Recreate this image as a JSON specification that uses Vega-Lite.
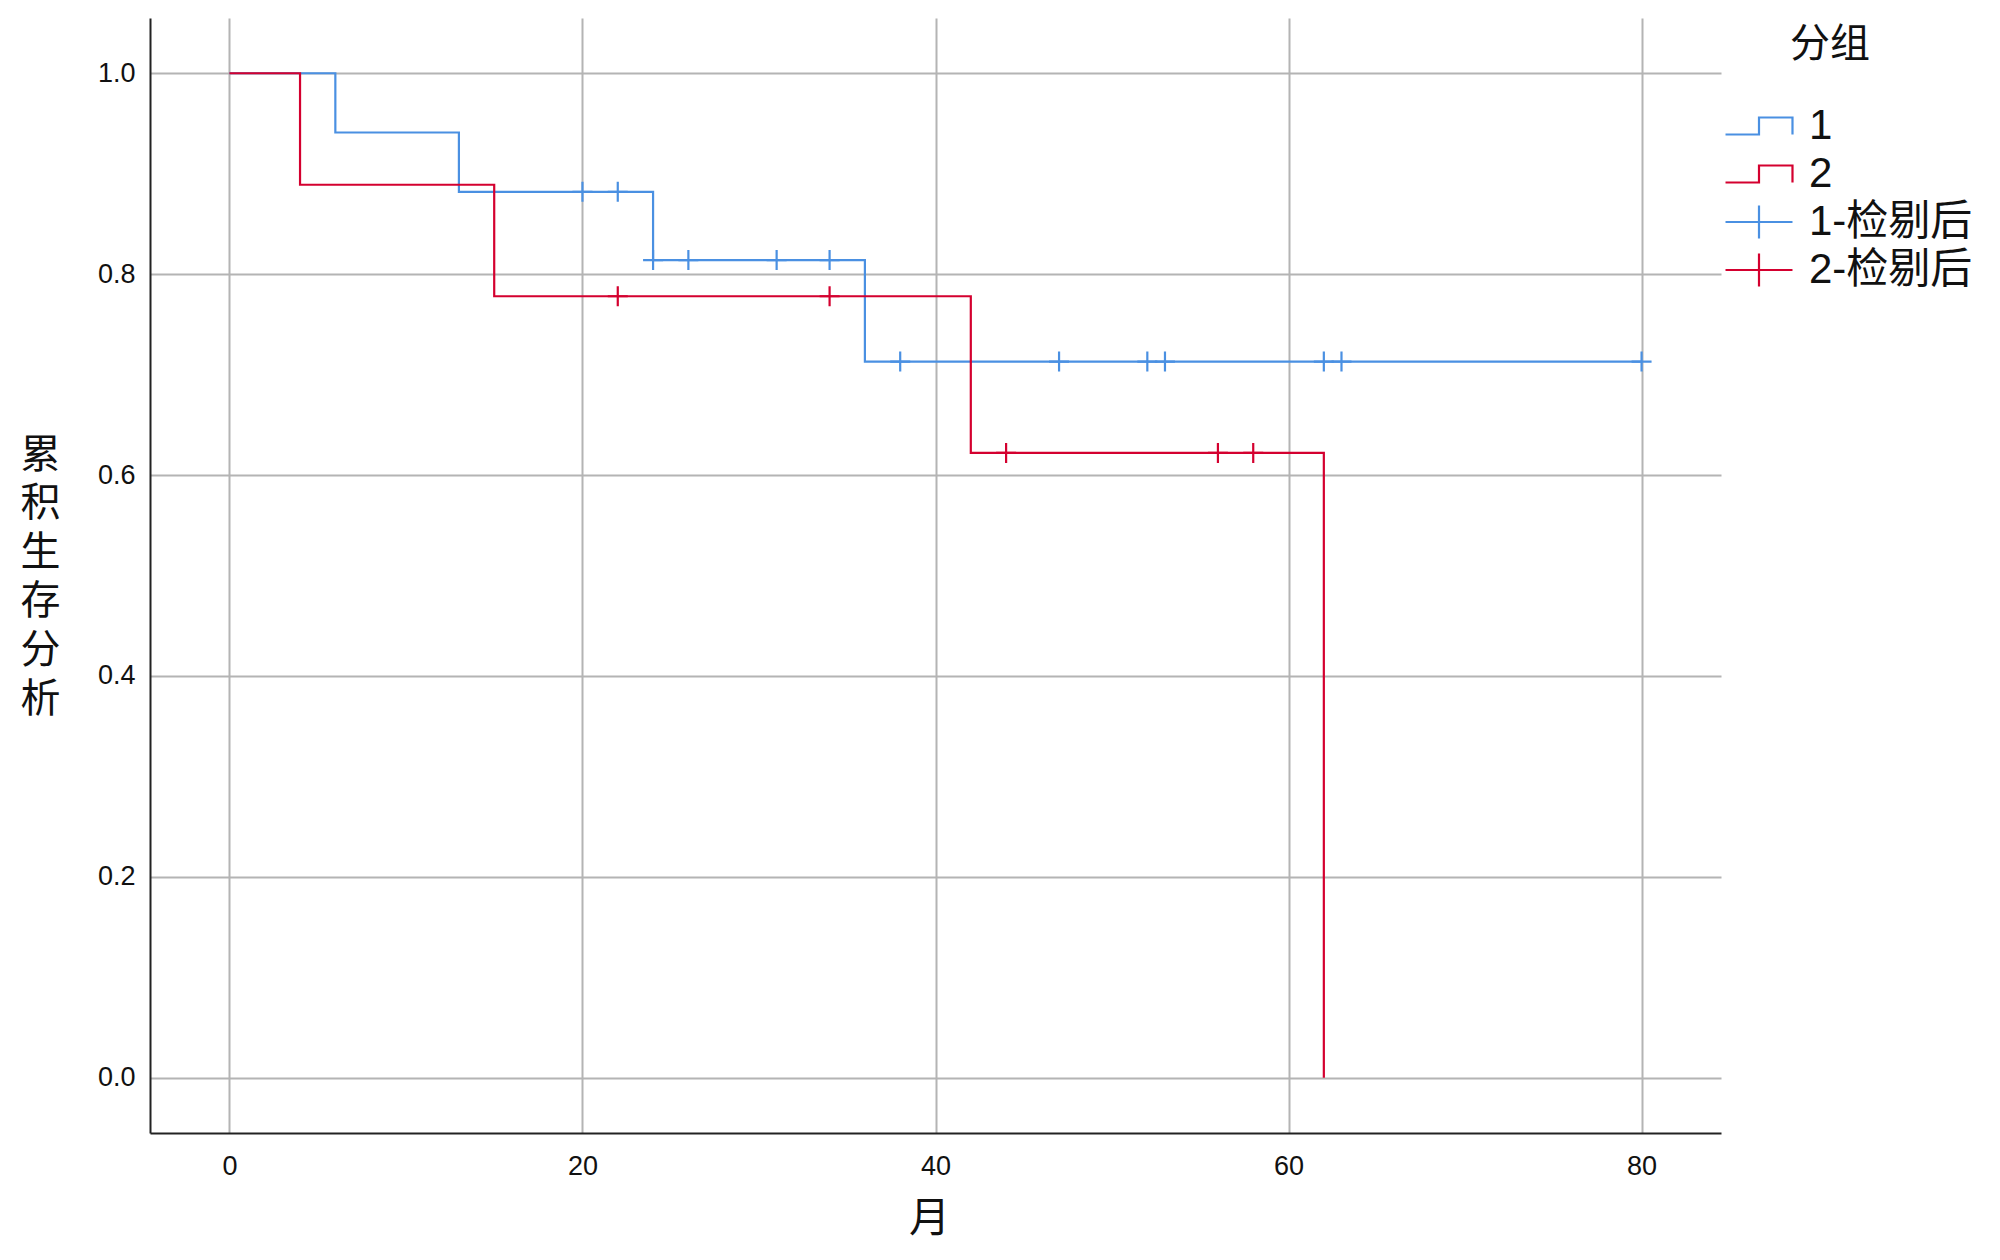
{
  "$schema": "https://vega.github.io/schema/vega-lite/v6.json",
  "width": 1571,
  "height": 1115,
  "autosize": {"type": "none"},
  "padding": {"left": 150, "top": 18, "right": 279, "bottom": 127},
  "background": "white",
  "config": {
    "view": {"stroke": null},
    "axis": {
      "domainColor": "#222222",
      "domainWidth": 2,
      "gridColor": "#b4b4b4",
      "gridWidth": 2,
      "ticks": false,
      "labelFont": "Liberation Sans",
      "labelFontSize": 27,
      "labelColor": "#111111",
      "titleFont": "Noto Sans CJK SC",
      "titleFontSize": 41,
      "titleFontWeight": "normal",
      "titleColor": "#111111"
    }
  },
  "datasets": {
    "curves": [
      {"series": "1", "t": 0, "s": 1.0},
      {"series": "1", "t": 6, "s": 0.941},
      {"series": "1", "t": 13, "s": 0.882},
      {"series": "1", "t": 24, "s": 0.814},
      {"series": "1", "t": 36, "s": 0.713},
      {"series": "1", "t": 80, "s": 0.713},
      {"series": "2", "t": 0, "s": 1.0},
      {"series": "2", "t": 4, "s": 0.889},
      {"series": "2", "t": 15, "s": 0.778},
      {"series": "2", "t": 42, "s": 0.622},
      {"series": "2", "t": 62, "s": 0.0}
    ],
    "censored": [
      {"series": "1-检剔后", "t": 20, "s": 0.882},
      {"series": "1-检剔后", "t": 22, "s": 0.882},
      {"series": "1-检剔后", "t": 24, "s": 0.814},
      {"series": "1-检剔后", "t": 26, "s": 0.814},
      {"series": "1-检剔后", "t": 31, "s": 0.814},
      {"series": "1-检剔后", "t": 34, "s": 0.814},
      {"series": "1-检剔后", "t": 38, "s": 0.713},
      {"series": "1-检剔后", "t": 47, "s": 0.713},
      {"series": "1-检剔后", "t": 52, "s": 0.713},
      {"series": "1-检剔后", "t": 53, "s": 0.713},
      {"series": "1-检剔后", "t": 62, "s": 0.713},
      {"series": "1-检剔后", "t": 63, "s": 0.713},
      {"series": "1-检剔后", "t": 80, "s": 0.713},
      {"series": "2-检剔后", "t": 22, "s": 0.778},
      {"series": "2-检剔后", "t": 34, "s": 0.778},
      {"series": "2-检剔后", "t": 44, "s": 0.622},
      {"series": "2-检剔后", "t": 56, "s": 0.622},
      {"series": "2-检剔后", "t": 58, "s": 0.622}
    ]
  },
  "encoding": {
    "x": {
      "field": "t",
      "type": "quantitative",
      "scale": {"domain": [-4.5, 84.5], "nice": false, "zero": false},
      "axis": {
        "values": [0, 20, 40, 60, 80],
        "format": "d",
        "labelPadding": 20,
        "title": "月",
        "titleX": 779,
        "titleY": 86,
        "titleBaseline": "middle",
        "titleAlign": "center"
      }
    },
    "y": {
      "field": "s",
      "type": "quantitative",
      "scale": {"domain": [-0.055, 1.055], "nice": false, "zero": false},
      "axis": {
        "values": [0, 0.2, 0.4, 0.6, 0.8, 1.0],
        "format": ".1f",
        "labelPadding": 15,
        "title": ["累", "积", "生", "存", "分", "析"],
        "titleAngle": 0,
        "titleFontSize": 40,
        "titleX": -110,
        "titleY": 437,
        "titleAlign": "center",
        "titleBaseline": "middle",
        "titleLineHeight": 48.8
      }
    },
    "color": {
      "field": "series",
      "type": "nominal",
      "scale": {
        "domain": ["1", "2", "1-检剔后", "2-检剔后"],
        "range": ["#4a90e2", "#d4002f", "#4a90e2", "#d4002f"]
      },
      "legend": {
        "title": "分组",
        "orient": "none",
        "legendX": 1588,
        "legendY": 7,
        "titleFont": "Noto Sans CJK SC",
        "titleFontSize": 40,
        "titleFontWeight": "normal",
        "titleColor": "#111111",
        "titleAnchor": "start",
        "titlePadding": 40,
        "labelFont": "Liberation Sans, Noto Sans CJK SC",
        "labelFontSize": 42,
        "labelColor": "#111111",
        "labelOffset": 29,
        "labelLimit": 0,
        "symbolSize": 1156,
        "symbolStrokeWidth": 2.2,
        "symbolFillColor": "transparent",
        "rowPadding": 6,
        "encode": {
          "title": {"update": {"dx": {"value": 52}}},
          "symbols": {
            "update": {
              "shape": {"signal": "(datum.value == '1' || datum.value == '2') ? 'M-1.97,0.5L0,0.5L0,-0.5L1.97,-0.5L1.97,0.5' : 'M-1.97,0L1.97,0M0,-0.97L0,0.97'"},
              "fill": {"value": "transparent"},
              "strokeWidth": {"value": 2.2}
            }
          }
        }
      }
    }
  },
  "layer": [
    {
      "data": {"name": "curves"},
      "mark": {"type": "line", "interpolate": "step-after", "strokeWidth": 2.2}
    },
    {
      "data": {"name": "censored"},
      "mark": {"type": "point", "filled": false, "shape": "M-1,0L1,0M0,-1L0,1", "size": 400, "strokeWidth": 2.2, "opacity": 1}
    }
  ]
}
